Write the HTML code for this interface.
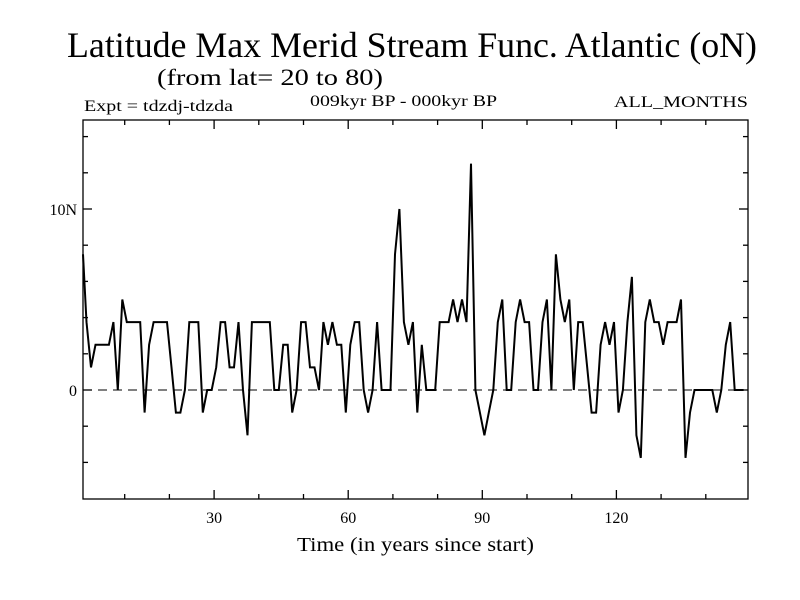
<!DOCTYPE html>
<html><head><meta charset="utf-8"><style>html,body{margin:0;padding:0;background:#fff}svg{display:block}</style></head>
<body>
<svg id="chart" width="800" height="600" viewBox="0 0 800 600" font-family="'Liberation Serif', serif">
<text x="67" y="57" font-size="36" textLength="690" lengthAdjust="spacingAndGlyphs">Latitude Max Merid Stream Func. Atlantic (oN)</text>
<text x="157" y="85" font-size="23" textLength="226" lengthAdjust="spacingAndGlyphs">(from lat= 20 to 80)</text>
<text x="84" y="111" font-size="16" textLength="149" lengthAdjust="spacingAndGlyphs">Expt = tdzdj-tdzda</text>
<text x="310" y="106" font-size="16" textLength="187" lengthAdjust="spacingAndGlyphs">009kyr BP - 000kyr BP</text>
<text x="614" y="107" font-size="16" textLength="134" lengthAdjust="spacingAndGlyphs">ALL_MONTHS</text>
<text x="297" y="551" font-size="20" textLength="237" lengthAdjust="spacingAndGlyphs">Time (in years since start)</text>
<g id="axes"></g>
<g id="series"></g>
</svg>
<script>
const years = [];
for (let i = 1; i <= 149; i++) years.push(i);
const values = [
7.5,3.75,1.25,2.5,2.5,2.5,2.5,3.75,0,5,
3.75,3.75,3.75,3.75,-1.25,2.5,3.75,3.75,3.75,3.75,
1.25,-1.25,-1.25,0,3.75,3.75,3.75,-1.25,0,0,
1.25,3.75,3.75,1.25,1.25,3.75,0,-2.5,3.75,3.75,
3.75,3.75,3.75,0,0,2.5,2.5,-1.25,0,3.75,
3.75,1.25,1.25,0,3.75,2.5,3.75,2.5,2.5,-1.25,
2.5,3.75,3.75,0,-1.25,0,3.75,0,0,0,
7.5,10,3.75,2.5,3.75,-1.25,2.5,0,0,0,
3.75,3.75,3.75,5,3.75,5,3.75,12.5,0,-1.25,
-2.5,-1.25,0,3.75,5,0,0,3.75,5,3.75,
3.75,0,0,3.75,5,0,7.5,5,3.75,5,
0,3.75,3.75,1.25,-1.25,-1.25,2.5,3.75,2.5,3.75,
-1.25,0,3.75,6.25,-2.5,-3.75,3.75,5,3.75,3.75,
2.5,3.75,3.75,3.75,5,-3.75,-1.25,0,0,0,
0,0,-1.25,0,2.5,3.75,0,0,0];
const xTickLabels = ["30","60","90","120"];
const xTickVals = [30,60,90,120];
const yTickLabels = ["10N","0"];
const yTickVals = [10,0];

const L=83,R=748,T=120,B=499;
const xs = t => 77.6 + 4.47*t;
const xa = t => 80 + 4.47*t;
const ys = v => 390 - 18.1*v;
const NS='http://www.w3.org/2000/svg';
const axes=document.getElementById('axes'), series=document.getElementById('series');
function mk(tag, attrs, parent){const e=document.createElementNS(NS,tag);for(const k in attrs)e.setAttribute(k,attrs[k]);parent.appendChild(e);return e;}

const frame=mk('rect',{x:L,y:T,width:R-L,height:B-T,fill:'none',stroke:'#000','stroke-width':1.3},axes);



for(let t=10;t<=140;t+=10){
  const major = t%30===0; const len = major?9:5; const x=xa(t);
  const b=mk('line',{x1:x,x2:x,y1:B,y2:B-len,stroke:'#000','stroke-width':1.3},axes);
  
  
  const tp=mk('line',{x1:x,x2:x,y1:T,y2:T+len,stroke:'#000','stroke-width':1.3},axes);
  
  
}
for(let v=-4;v<=14;v+=2){
  const major = v%10===0; const len = major?9:5; const y=ys(v);
  const l=mk('line',{x1:L,x2:L+len,y1:y,y2:y,stroke:'#000','stroke-width':1.3},axes);
  
  
  const r=mk('line',{x1:R,x2:R-len,y1:y,y2:y,stroke:'#000','stroke-width':1.3},axes);
  
  
}
xTickVals.forEach((v,i)=>{
  const t=mk('text',{x:xa(v),y:523,'font-size':16,'text-anchor':'middle'},axes);
  t.textContent=xTickLabels[i];
  
  
});
yTickVals.forEach((v,i)=>{
  const t=mk('text',{x:77,y:ys(v)+6,'font-size':16,'text-anchor':'end'},axes);
  t.textContent=yTickLabels[i];
  
  
});
const zl=mk('line',{x1:L,x2:R,y1:ys(0),y2:ys(0),stroke:'#000','stroke-width':1,'stroke-dasharray':'9,6'},axes);



const pts=years.map((t,i)=>Math.min(Math.max(xs(t),L),R).toFixed(1)+','+ys(values[i]).toFixed(1)).join(' ');
const pl=mk('polyline',{points:pts,fill:'none',stroke:'#000','stroke-width':2,'stroke-linejoin':'miter'},series);


</script>
</body></html>
